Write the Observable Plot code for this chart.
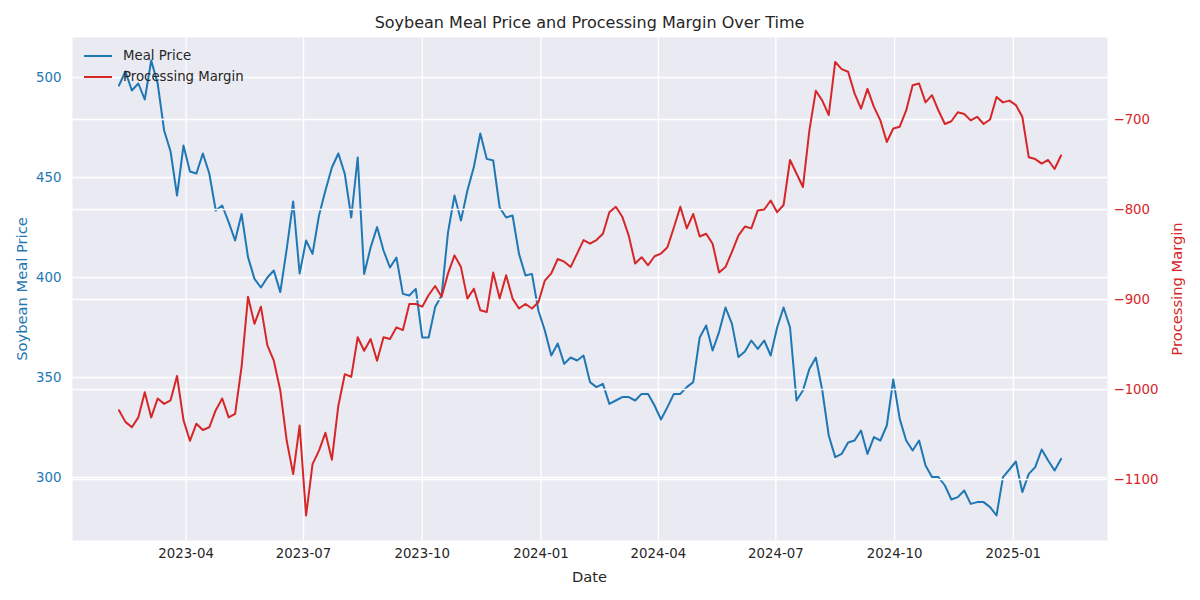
<!DOCTYPE html>
<html>
<head>
<meta charset="utf-8">
<script src="https://cdn.jsdelivr.net/npm/d3@7"></script>
<script src="https://cdn.jsdelivr.net/npm/@observablehq/plot@0.6"></script>
<style>
  body { margin: 0; background: white; font-family: "DejaVu Sans", sans-serif; }
  #wrap { position: relative; width: 1200px; height: 600px; }
  .ov { position: absolute; white-space: nowrap; line-height: 1; }
  .center { transform: translate(-50%, -50%); }
  .rot { transform: translate(-50%, -50%) rotate(-90deg); }
  .legline { position: absolute; height: 2px; width: 28px; }
</style>
</head>
<body>
<div id="wrap">
  <div class="ov center" style="left:589.5px; top:23px; font-size:16px; color:#262626;">Soybean Meal Price and Processing Margin Over Time</div>
  <div class="ov center" style="left:589.5px; top:577px; font-size:14.7px; color:#262626;">Date</div>
  <div class="ov rot" style="left:22px; top:288.5px; font-size:14.7px; color:#1f77b4;">Soybean Meal Price</div>
  <div class="ov rot" style="left:1177px; top:288.5px; font-size:14.7px; color:#d62728;">Processing Margin</div>
</div>
<script>
// ---- data ----
const dates = [
"2023-02-08","2023-02-13","2023-02-18","2023-02-23","2023-02-28","2023-03-05","2023-03-10","2023-03-15","2023-03-20","2023-03-25",
"2023-03-30","2023-04-04","2023-04-09","2023-04-14","2023-04-19","2023-04-24","2023-04-29","2023-05-04","2023-05-09","2023-05-14",
"2023-05-19","2023-05-24","2023-05-29","2023-06-03","2023-06-08","2023-06-13","2023-06-18","2023-06-23","2023-06-28","2023-07-03",
"2023-07-08","2023-07-13","2023-07-18","2023-07-23","2023-07-28","2023-08-02","2023-08-07","2023-08-12","2023-08-17","2023-08-22",
"2023-08-27","2023-09-01","2023-09-06","2023-09-11","2023-09-16","2023-09-21","2023-09-26","2023-10-01","2023-10-06","2023-10-11",
"2023-10-16","2023-10-21","2023-10-26","2023-10-31","2023-11-05","2023-11-10","2023-11-15","2023-11-20","2023-11-25","2023-11-30",
"2023-12-05","2023-12-10","2023-12-15","2023-12-20","2023-12-25","2023-12-30","2024-01-04","2024-01-09","2024-01-14","2024-01-19",
"2024-01-24","2024-01-29","2024-02-03","2024-02-08","2024-02-13","2024-02-18","2024-02-23","2024-02-28","2024-03-04","2024-03-09",
"2024-03-14","2024-03-19","2024-03-24","2024-03-29","2024-04-03","2024-04-08","2024-04-13","2024-04-18","2024-04-23","2024-04-28",
"2024-05-03","2024-05-08","2024-05-13","2024-05-18","2024-05-23","2024-05-28","2024-06-02","2024-06-07","2024-06-12","2024-06-17",
"2024-06-22","2024-06-27","2024-07-02","2024-07-07","2024-07-12","2024-07-17","2024-07-22","2024-07-27","2024-08-01","2024-08-06",
"2024-08-11","2024-08-16","2024-08-21","2024-08-26","2024-08-31","2024-09-05","2024-09-10","2024-09-15","2024-09-20","2024-09-25",
"2024-09-30","2024-10-05","2024-10-10","2024-10-15","2024-10-20","2024-10-25","2024-10-30","2024-11-04","2024-11-09","2024-11-14",
"2024-11-19","2024-11-24","2024-11-29","2024-12-04","2024-12-09","2024-12-14","2024-12-19","2024-12-24","2024-12-29","2025-01-03",
"2025-01-08","2025-01-13","2025-01-18","2025-01-23","2025-01-28","2025-02-02","2025-02-07"
];
const mealPrice = [
496,503,493.5,497,489,508.5,497,473.5,463,441,
466,453,452,462,452,433.5,436,427.7,418.5,431.8,
410.2,399.3,395,400,403.5,392.7,414.3,438,402,418.5,
411.8,431,443.5,455,462,451.8,430,460,401.8,415,
425.2,413.5,405,410,391.8,391,394.3,370,370,385.2,
391,422.7,441,428.5,443.5,455.2,472,459.3,458.5,435,
430,431,411.8,401,401.8,383.5,373.5,361,367,356.8,
360,358.5,361,347.7,345.2,346.8,336.8,338.5,340.2,340.2,
338.5,341.8,341.8,336,329,335.2,341.8,341.8,345.2,347.7,
370,376,363.5,372.7,385,376.8,360.2,363,368.5,364.3,
368.5,361,375,385,375,338.5,343.5,354.3,360,343.5,
321,310.2,311.8,317.5,318.5,323.5,311.8,320.2,318.5,326,
349,329.3,318.5,313.5,318.5,306,300.2,300.2,296,289,
290.2,293.5,286.8,287.7,287.7,285.2,281,300.2,304,308,
292.7,301.8,305.2,314,308.5,303.5,309.3
];
const processingMargin = [
-1023,-1036,-1042,-1031,-1003,-1031,-1010,-1016,-1012,-985,
-1034,-1057,-1038,-1045,-1042,-1023,-1010,-1031,-1027,-975,
-897,-927,-908,-951,-968,-1001,-1057,-1094,-1040,-1140,
-1083,-1068,-1048,-1078,-1018,-983,-986,-942,-957,-944,
-968,-942,-944,-931,-934,-905,-905,-908,-895,-885,
-897,-871,-851,-864,-899,-888,-912,-914,-870,-899,
-873,-899,-910,-905,-910,-903,-879,-871,-855,-858,
-864,-849,-834,-838,-834,-827,-803,-797,-808,-829,
-860,-853,-862,-852,-849,-842,-820,-797,-821,-805,
-830,-827,-838,-870,-864,-847,-829,-819,-821,-801,
-800,-790,-803,-795,-745,-760,-775,-712,-668,-679,
-695,-636,-644,-647,-671,-688,-666,-686,-701,-725,
-710,-708,-690,-662,-660,-681,-673,-690,-705,-702,
-692,-694,-701,-697,-705,-700,-675,-681,-679,-684,
-697,-742,-744,-749,-745,-755,-740
];
const leftTicks = [300, 350, 400, 450, 500];
const rightTicks = [-1100, -1000, -900, -800, -700];
const xTickDates = ["2023-04-01","2023-07-01","2023-10-01","2024-01-01","2024-04-01","2024-07-01","2024-10-01","2025-01-01"];
const seriesNames = ["Meal Price", "Processing Margin"];

// ---- scales config ----
const leftDomain = [268.5, 520];
const rightDomain = [-1167.8, -608.9];
const toLeft = d3.scaleLinear().domain(rightDomain).range(leftDomain);
const BLUE = "#1f77b4", RED = "#d62728";

const rows = dates.map((d, i) => ({date: new Date(d), meal: mealPrice[i], margin: processingMargin[i]}));
const xTicks = xTickDates.map(d => new Date(d));
const rightTicksL = rightTicks.map(toLeft);
const gridStyle = {stroke: "white", strokeOpacity: 1, strokeWidth: 1.3};

const chart = Plot.plot({
  width: 1200, height: 600,
  marginTop: 37, marginBottom: 60, marginLeft: 72, marginRight: 93,
  style: {fontFamily: "DejaVu Sans", fontSize: "13.3px", background: "white", color: "#262626"},
  x: {type: "utc", domain: [new Date("2023-01-03"), new Date("2025-03-15")]},
  y: {domain: leftDomain},
  marks: [
    Plot.frame({fill: "#EAEAF2", stroke: null}),
    Plot.gridX(xTicks, gridStyle),
    Plot.gridY(leftTicks, gridStyle),
    Plot.line(rows, {x: "date", y: "meal", stroke: BLUE, strokeWidth: 2}),
    Plot.gridY(rightTicksL, gridStyle),
    Plot.line(rows, {x: "date", y: d => toLeft(d.margin), stroke: RED, strokeWidth: 2}),
    Plot.axisX(xTicks, {tickSize: 0, tickPadding: 8, tickFormat: d3.utcFormat("%Y-%m"), label: null, fill: "#262626"}),
    Plot.axisY(leftTicks, {anchor: "left", tickSize: 0, tickPadding: 11, label: null, fill: BLUE}),
    Plot.axisY(rightTicksL, {anchor: "right", tickSize: 0, tickPadding: 6, label: null, fill: RED,
      tickFormat: v => d3.format("d")(Math.round(toLeft.invert(v)))})
  ]
});
const wrap = document.getElementById("wrap");
wrap.insertBefore(chart, wrap.firstChild);

// legend (HTML overlay)
const legColors = [BLUE, RED];
seriesNames.forEach((name, i) => {
  const y = 56 + i * 21;
  const ln = document.createElement("div");
  ln.className = "legline";
  ln.style.left = "84px"; ln.style.top = (y - 1) + "px"; ln.style.background = legColors[i];
  wrap.appendChild(ln);
  const t = document.createElement("div");
  t.className = "ov";
  t.style.left = "123px"; t.style.top = y + "px"; t.style.transform = "translateY(-50%)";
  t.style.fontSize = "13.3px"; t.style.color = "#262626";
  t.textContent = name;
  wrap.appendChild(t);
});
</script>
</body>
</html>
